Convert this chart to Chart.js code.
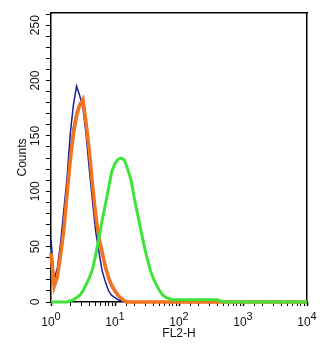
<!DOCTYPE html>
<html>
<head>
<meta charset="utf-8">
<script src="https://cdn.jsdelivr.net/npm/chart.js@4/dist/chart.umd.min.js"></script>
<style>
html,body{margin:0;padding:0;background:#fff;}
#wrap{width:333px;height:349px;}
</style>
</head>
<body>
<div id="wrap"><canvas id="c" width="333" height="349"></canvas></div>
<script>
// FL2-H channel positions (log-spaced bins)
const fl2Channels = [1,1.12,1.26,1.41,1.58,1.78,2.00,2.24,2.51,2.82,3.16,3.55,3.98,4.47,5.01,5.62,6.31,7.08,7.94,8.91,
  10,11.2,12.6,14.1,15.8,17.8,20.0,22.4,25.1,28.2,31.6,35.5,39.8,44.7,50.1,56.2,63.1,70.8,79.4,89.1,
  100,112,126,141,158,178,200,224,251,282,316,355,398,447,501,562,631,1000,3162,10000];

// Counts per channel
const blueCounts = [56,20,31,53,82,112,152,178,195,186,175,150,119,90,63,45,28,18,10,6,
  4,2,1,0,0,0,0,0,0,0,0,0,0,0,0,0,0,0,0,0,
  0,0,0,0,0,0,0,0,0,0,0,0,0,0,0,0,0,0,0,0];
const lightBlueCounts = [48,16,26,46,70,104,135,158,172,180,180,158,132,100,74,55,42,30,20,13,
  9,5,3,1,0,0,0,0,0,0,0,0,0,0,0,0,0,0,0,0,
  0,0,0,0,0,0,0,0,0,0,0,0,0,0,0,0,0,0,0,0];
const orangeCounts = [44,14,23,42,64,97,128,152,168,178,183,161,136,105,78,58,45,32,22,15,
  10,6,3,1,0,0,0,0,0,0,0,0,0,0,0,0,0,0,0,0,
  0,0,0,0,0,0,0,0,0,0,0,0,0,0,0,0,0,0,0,0];
const greenCounts = [0,0,0,0,0,0,1,2,4,6,10,16,22,30,43,58,74,88,103,118,
  125,129,130,128,120,110,94,80,66,52,40,29,21,15,10,6,4,3,2,2,
  2,2,2,2,2,2,2,2,2,2,2,2,2,1,0,0,0,0,0,0];

// Axis labels
const xDecades = [1,10,100,1000,10000];
const xExponents = ['0','1','2','3','4'];
const yLabelValues = [0,50,100,150,200,250];
const xTitle = 'FL2-H';
const yTitle = 'Counts';

function pts(arr){ return fl2Channels.map((x,i)=>({x:x,y:arr[i]})); }

const labelPlugin = {
  id:'labels',
  afterDraw(chart){
    const ctx = chart.ctx;
    const xs = chart.scales.x, ys = chart.scales.y;
    ctx.save();
    ctx.fillStyle = '#111';
    xDecades.forEach((v,i)=>{
      const px = xs.getPixelForValue(v);
      ctx.font = '12px "Liberation Sans", Arial, sans-serif';
      const wb = ctx.measureText('10').width;
      ctx.font = '11px "Liberation Sans", Arial, sans-serif';
      const we = ctx.measureText(xExponents[i]).width;
      const start = px - (wb+we)/2;
      ctx.textAlign = 'left'; ctx.textBaseline = 'alphabetic';
      ctx.font = '12px "Liberation Sans", Arial, sans-serif';
      ctx.fillText('10', start, 325.5);
      ctx.font = '11px "Liberation Sans", Arial, sans-serif';
      ctx.fillText(xExponents[i], start+wb, 319.5);
    });
    ctx.font = '12px "Liberation Sans", Arial, sans-serif';
    yLabelValues.forEach(v=>{
      const py = ys.getPixelForValue(v);
      ctx.save();
      ctx.translate(38.5, py);
      ctx.rotate(-Math.PI/2);
      ctx.textAlign = 'center'; ctx.textBaseline = 'alphabetic';
      ctx.fillText(String(v), 0, 0);
      ctx.restore();
    });
    ctx.restore();
  }
};

const ds = (label, data, color, w) => ({
  label, data: pts(data), borderColor: color, borderWidth: w,
  pointRadius: 0, tension: 0, fill: false, clip: false
});

new Chart(document.getElementById('c'), {
  type: 'line',
  data: {
    datasets: [
      ds('green', greenCounts, '#3ee43a', 3),
      ds('orange', orangeCounts, '#f4731f', 3.5),
      ds('blue', blueCounts, '#1e1e92', 1.5),
      ds('lightblue', lightBlueCounts, '#4a8fd4', 2)
    ]
  },
  options: {
    responsive: false,
    devicePixelRatio: 1,
    animation: false,
    layout: {padding: 0},
    plugins: {legend: {display: false}, tooltip: {enabled: false}},
    scales: {
      x: {
        type: 'logarithmic', position: 'bottom', min: 1, max: 10000,
        afterFit: s => { s.height = 47; },
        border: {display: true, color: '#000', width: 1.5},
        grid: {display: true, drawOnChartArea: false, drawTicks: true, tickLength: 4, tickColor: '#000',
               tickWidth: c => { const v = c.tick && c.tick.value; return (v && Math.abs(Math.log10(v) - Math.round(Math.log10(v))) < 1e-6) ? 1.5 : 1; }},
        ticks: {autoSkip: false, callback: () => '', padding: 0, maxRotation: 0},
        title: {display: true, text: xTitle, color: '#111', font: {family: '"Liberation Sans", Arial, sans-serif', size: 12}, padding: {top: 0, bottom: 8}}
      },
      y: {
        type: 'linear', position: 'left', min: 0, max: 261,
        afterFit: s => { s.width = 51; },
        border: {display: true, color: '#000', width: 1.5},
        grid: {display: true, drawOnChartArea: false, drawTicks: true, tickLength: 5, tickColor: '#000', tickWidth: 1},
        ticks: {stepSize: 10, includeBounds: false, autoSkip: false, callback: () => '', padding: 0},
        title: {display: true, text: yTitle, color: '#111', font: {family: '"Liberation Sans", Arial, sans-serif', size: 12}, padding: {top: 15, bottom: 0}}
      },
      x2: {
        type: 'linear', position: 'top', min: 0, max: 1,
        afterFit: s => { s.height = 13; },
        border: {display: true, color: '#000', width: 1.5},
        grid: {display: false}, ticks: {display: false}
      },
      y2: {
        type: 'linear', position: 'right', min: 0, max: 1,
        afterFit: s => { s.width = 26; },
        border: {display: true, color: '#000', width: 1.5},
        grid: {display: false}, ticks: {display: false}
      }
    }
  },
  plugins: [labelPlugin]
});
</script>
</body>
</html>
